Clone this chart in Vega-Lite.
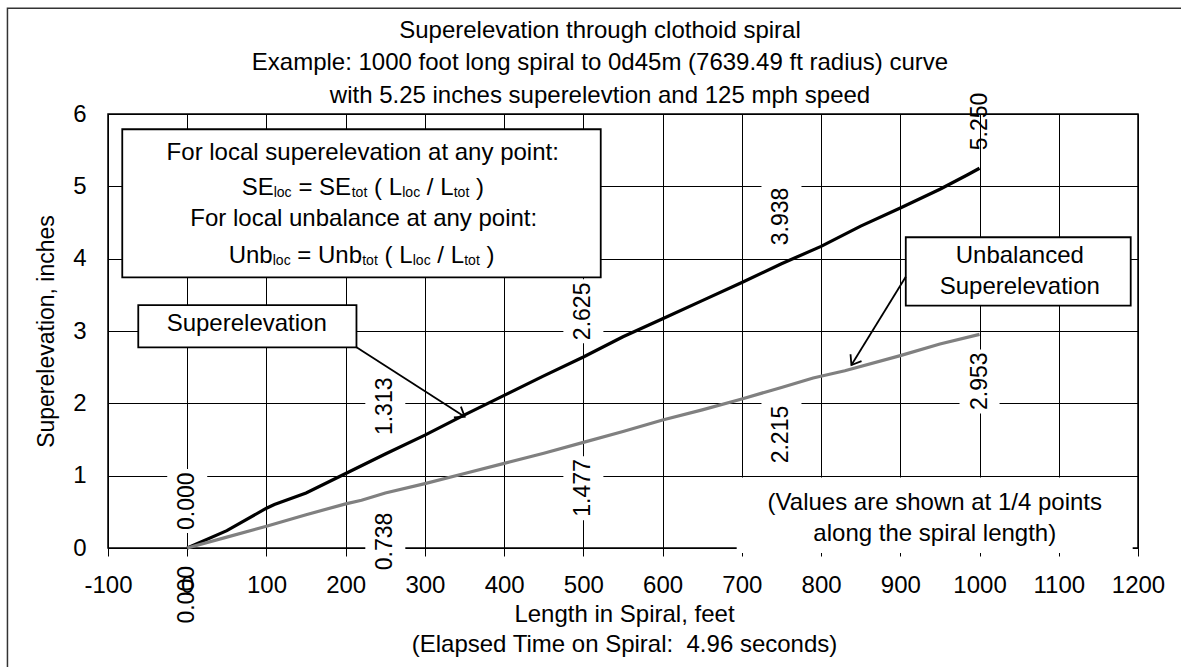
{
  "$schema": "https://vega.github.io/schema/vega-lite/v6.json",
  "width": 1030,
  "height": 434,
  "autosize": {"type": "none"},
  "padding": {"left": 108, "top": 114, "right": 43, "bottom": 119},
  "background": "white",
  "config": {
    "font": "Liberation Sans",
    "view": {"stroke": "#000", "strokeWidth": 1.5},
    "text": {"color": "#000", "font": "Liberation Sans"}
  },
  "title": {
    "text": [
      "Superelevation through clothoid spiral",
      "Example: 1000 foot long spiral to 0d45m (7639.49 ft radius) curve",
      "with 5.25 inches superelevtion and 125 mph speed"
    ],
    "fontSize": 24,
    "fontWeight": "normal",
    "color": "#000",
    "font": "Liberation Sans",
    "lineHeight": 32.5,
    "anchor": "middle",
    "frame": "group",
    "dx": -23,
    "dy": 100,
    "offset": 0
  },
  "datasets": {
    "spiral": [
      {"L": 0, "SE": 0, "series": "Superelevation"},
      {"L": 50, "SE": 0.24, "series": "Superelevation"},
      {"L": 100, "SE": 0.55, "series": "Superelevation"},
      {"L": 110, "SE": 0.6, "series": "Superelevation"},
      {"L": 150, "SE": 0.76, "series": "Superelevation"},
      {"L": 200, "SE": 1.03, "series": "Superelevation"},
      {"L": 250, "SE": 1.3, "series": "Superelevation"},
      {"L": 300, "SE": 1.56, "series": "Superelevation"},
      {"L": 350, "SE": 1.84, "series": "Superelevation"},
      {"L": 400, "SE": 2.11, "series": "Superelevation"},
      {"L": 450, "SE": 2.38, "series": "Superelevation"},
      {"L": 500, "SE": 2.64, "series": "Superelevation"},
      {"L": 550, "SE": 2.92, "series": "Superelevation"},
      {"L": 600, "SE": 3.17, "series": "Superelevation"},
      {"L": 650, "SE": 3.42, "series": "Superelevation"},
      {"L": 700, "SE": 3.67, "series": "Superelevation"},
      {"L": 750, "SE": 3.93, "series": "Superelevation"},
      {"L": 800, "SE": 4.17, "series": "Superelevation"},
      {"L": 850, "SE": 4.45, "series": "Superelevation"},
      {"L": 900, "SE": 4.7, "series": "Superelevation"},
      {"L": 950, "SE": 4.96, "series": "Superelevation"},
      {"L": 985, "SE": 5.16, "series": "Superelevation"},
      {"L": 1000, "SE": 5.25, "series": "Superelevation"},
      {"L": 0, "SE": 0, "series": "Unbalanced Superelevation"},
      {"L": 50, "SE": 0.15, "series": "Unbalanced Superelevation"},
      {"L": 100, "SE": 0.3, "series": "Unbalanced Superelevation"},
      {"L": 150, "SE": 0.46, "series": "Unbalanced Superelevation"},
      {"L": 200, "SE": 0.61, "series": "Unbalanced Superelevation"},
      {"L": 220, "SE": 0.66, "series": "Unbalanced Superelevation"},
      {"L": 250, "SE": 0.76, "series": "Unbalanced Superelevation"},
      {"L": 300, "SE": 0.89, "series": "Unbalanced Superelevation"},
      {"L": 350, "SE": 1.03, "series": "Unbalanced Superelevation"},
      {"L": 400, "SE": 1.17, "series": "Unbalanced Superelevation"},
      {"L": 450, "SE": 1.31, "series": "Unbalanced Superelevation"},
      {"L": 500, "SE": 1.46, "series": "Unbalanced Superelevation"},
      {"L": 550, "SE": 1.61, "series": "Unbalanced Superelevation"},
      {"L": 600, "SE": 1.77, "series": "Unbalanced Superelevation"},
      {"L": 650, "SE": 1.91, "series": "Unbalanced Superelevation"},
      {"L": 700, "SE": 2.06, "series": "Unbalanced Superelevation"},
      {"L": 750, "SE": 2.22, "series": "Unbalanced Superelevation"},
      {"L": 790, "SE": 2.35, "series": "Unbalanced Superelevation"},
      {"L": 830, "SE": 2.45, "series": "Unbalanced Superelevation"},
      {"L": 900, "SE": 2.66, "series": "Unbalanced Superelevation"},
      {"L": 950, "SE": 2.82, "series": "Unbalanced Superelevation"},
      {"L": 1000, "SE": 2.953, "series": "Unbalanced Superelevation"}
    ],
    "quarters": [
      {"L": 0, "value": 0, "series": "Superelevation"},
      {"L": 250, "value": 1.3125, "series": "Superelevation"},
      {"L": 500, "value": 2.625, "series": "Superelevation"},
      {"L": 750, "value": 3.9375, "series": "Superelevation"},
      {"L": 1000, "value": 5.25, "series": "Superelevation"},
      {"L": 0, "value": 0, "series": "Unbalanced Superelevation"},
      {"L": 250, "value": 0.738, "series": "Unbalanced Superelevation"},
      {"L": 500, "value": 1.477, "series": "Unbalanced Superelevation"},
      {"L": 750, "value": 2.215, "series": "Unbalanced Superelevation"},
      {"L": 1000, "value": 2.953, "series": "Unbalanced Superelevation"}
    ],
    "boxes": [
      {"box": "formula", "x": -82.0, "x2": 521.9, "y": 5.789, "y2": 3.742},
      {"box": "se", "x": -61.8, "x2": 213.6, "y": 3.359, "y2": 2.775},
      {"box": "unb", "x": 906.9, "x2": 1190.8, "y": 4.296, "y2": 3.35}
    ],
    "note": [
      {"x": 693.5, "x2": 1193.3, "y": 0.975, "y2": -0.07}
    ],
    "arrows": [
      {"id": "se", "x": 213.6, "y": 2.775, "x2": 350.2, "y2": 1.815},
      {"id": "unb", "x": 906.9, "y": 3.75, "x2": 838.3, "y2": 2.53}
    ],
    "labels": [
      {"x": 221.5, "y": 5.368, "text": "For local superelevation at any point:"},
      {"x": 222.8, "y": 4.456, "text": "For local unbalance at any point:"},
      {"x": 75.1, "y": 3.0, "text": "Superelevation"},
      {"x": 1050.8, "y": 3.947, "text": "Unbalanced"},
      {"x": 1050.8, "y": 3.512, "text": "Superelevation"},
      {"x": 943.5, "y": 0.532, "text": "(Values are shown at 1/4 points"},
      {"x": 943.5, "y": 0.09, "text": "along the spiral length)"}
    ],
    "formulaMain": [
      {"x": 68.66, "y": 4.884, "text": "SE"},
      {"x": 140.35, "y": 4.884, "text": "= SE"},
      {"x": 235.77, "y": 4.884, "text": "( L"},
      {"x": 302.41, "y": 4.884, "text": "/ L"},
      {"x": 364.5, "y": 4.884, "text": ")"},
      {"x": 52.25, "y": 3.94, "text": "Unb"},
      {"x": 138.96, "y": 3.94, "text": "= Unb"},
      {"x": 249.02, "y": 3.94, "text": "( L"},
      {"x": 315.66, "y": 3.94, "text": "/ L"},
      {"x": 377.76, "y": 3.94, "text": ")"}
    ],
    "formulaSub": [
      {"x": 109.17, "y": 4.857, "text": "loc"},
      {"x": 207.62, "y": 4.857, "text": "tot"},
      {"x": 271.36, "y": 4.857, "text": "loc"},
      {"x": 336.36, "y": 4.857, "text": "tot"},
      {"x": 107.91, "y": 3.912, "text": "loc"},
      {"x": 220.87, "y": 3.912, "text": "tot"},
      {"x": 284.61, "y": 3.912, "text": "loc"},
      {"x": 349.61, "y": 3.912, "text": "tot"}
    ]
  },
  "layer": [
    {
      "data": {"values": [{}]},
      "mark": {"type": "rect", "fillOpacity": 0, "stroke": "#333", "strokeWidth": 1.5, "clip": false},
      "encoding": {
        "x": {"datum": -226.9},
        "x2": {"datum": 1300},
        "y": {"datum": 7.461},
        "y2": {"datum": -2.2}
      }
    },
    {
      "data": {"name": "note"},
      "mark": {"type": "rect", "color": "#fff", "fillOpacity": 1},
      "encoding": {
        "x": {"field": "x", "type": "quantitative"},
        "x2": {"field": "x2"},
        "y": {"field": "y", "type": "quantitative"},
        "y2": {"field": "y2"}
      }
    },
    {
      "data": {"name": "quarters"},
      "transform": [
        {"filter": "datum.series == 'Superelevation' && datum.L < 1000"}
      ],
      "mark": {"type": "rect", "color": "#fff", "width": 40, "height": 64, "yOffset": -47},
      "encoding": {
        "x": {"field": "L", "type": "quantitative"},
        "y": {"field": "value", "type": "quantitative"}
      }
    },
    {
      "data": {"name": "quarters"},
      "transform": [
        {"filter": "datum.series != 'Superelevation' && datum.L > 0"}
      ],
      "mark": {"type": "rect", "color": "#fff", "width": 40, "height": 64, "yOffset": 47},
      "encoding": {
        "x": {"field": "L", "type": "quantitative"},
        "y": {"field": "value", "type": "quantitative"}
      }
    },
    {
      "data": {"name": "spiral"},
      "mark": {"type": "line", "strokeWidth": 3.2},
      "encoding": {
        "x": {
          "field": "L",
          "type": "quantitative",
          "scale": {"domain": [-100, 1200], "nice": false, "zero": false},
          "axis": {
            "values": [-100, 0, 100, 200, 300, 400, 500, 600, 700, 800, 900, 1000, 1100, 1200],
            "labelExpr": "'' + datum.value",
            "grid": true,
            "gridColor": "#000",
            "gridWidth": 1,
            "gridOpacity": 1,
            "domain": false,
            "ticks": true,
            "tickColor": "#000",
            "tickSize": 8,
            "tickWidth": 1,
            "labelFontSize": 24,
            "labelColor": "#000",
            "labelFont": "Liberation Sans",
            "labelBaseline": "alphabetic",
            "labelPadding": 36.7,
            "labelFlush": false,
            "labelOverlap": false,
            "title": ["Length in Spiral, feet", "(Elapsed Time on Spiral: \u00a04.96 seconds)"],
            "titleFontSize": 24,
            "titleFontWeight": "normal",
            "titleColor": "#000",
            "titleFont": "Liberation Sans",
            "titleX": 516,
            "titleY": 73.7,
            "titleBaseline": "alphabetic",
            "titleAlign": "center",
            "titleLineHeight": 30
          }
        },
        "y": {
          "field": "SE",
          "type": "quantitative",
          "scale": {"domain": [0, 6], "nice": false},
          "axis": {
            "values": [0, 1, 2, 3, 4, 5, 6],
            "labelExpr": "'' + datum.value",
            "grid": true,
            "gridColor": "#000",
            "gridWidth": 1,
            "gridOpacity": 1,
            "domain": false,
            "ticks": false,
            "tickSize": 0,
            "labelFontSize": 24,
            "labelColor": "#000",
            "labelFont": "Liberation Sans",
            "labelPadding": 22,
            "labelBaseline": "middle",
            "title": "Superelevation, inches",
            "titleFontSize": 23,
            "titleFontWeight": "normal",
            "titleColor": "#000",
            "titleFont": "Liberation Sans",
            "titleX": -55,
            "titleY": 217,
            "titleAngle": 270,
            "titleBaseline": "alphabetic",
            "titleAlign": "center"
          }
        },
        "color": {
          "field": "series",
          "type": "nominal",
          "scale": {"domain": ["Superelevation", "Unbalanced Superelevation"], "range": ["#000000", "#808080"]},
          "legend": null
        }
      }
    },
    {
      "data": {"name": "boxes"},
      "mark": {"type": "rect", "fill": "#fff", "fillOpacity": 1, "stroke": "#000", "strokeWidth": 1.8},
      "encoding": {
        "x": {"field": "x", "type": "quantitative"},
        "x2": {"field": "x2"},
        "y": {"field": "y", "type": "quantitative"},
        "y2": {"field": "y2"}
      }
    },
    {
      "data": {"name": "arrows"},
      "mark": {"type": "rule", "color": "#000", "strokeWidth": 1.8},
      "encoding": {
        "x": {"field": "x", "type": "quantitative"},
        "x2": {"field": "x2"},
        "y": {"field": "y", "type": "quantitative"},
        "y2": {"field": "y2"}
      }
    },
    {
      "data": {"name": "arrows"},
      "transform": [{"filter": "datum.id == 'se'"}],
      "mark": {"type": "point", "shape": "M-1,-0.75L0,0L-1,0.75", "filled": false, "stroke": "#000", "strokeWidth": 1.8, "size": 300, "angle": 32.6, "opacity": 1},
      "encoding": {
        "x": {"field": "x2", "type": "quantitative"},
        "y": {"field": "y2", "type": "quantitative"}
      }
    },
    {
      "data": {"name": "arrows"},
      "transform": [{"filter": "datum.id == 'unb'"}],
      "mark": {"type": "point", "shape": "M-1,-0.75L0,0L-1,0.75", "filled": false, "stroke": "#000", "strokeWidth": 1.8, "size": 300, "angle": 122.1, "opacity": 1},
      "encoding": {
        "x": {"field": "x2", "type": "quantitative"},
        "y": {"field": "y2", "type": "quantitative"}
      }
    },
    {
      "data": {"name": "quarters"},
      "transform": [{"filter": "datum.series == 'Superelevation'"}],
      "mark": {"type": "text", "angle": 270, "align": "left", "baseline": "middle", "dx": 18, "fontSize": 23, "color": "#000"},
      "encoding": {
        "x": {"field": "L", "type": "quantitative"},
        "y": {"field": "value", "type": "quantitative"},
        "text": {"field": "value", "type": "quantitative", "format": ".3f"}
      }
    },
    {
      "data": {"name": "quarters"},
      "transform": [{"filter": "datum.series != 'Superelevation'"}],
      "mark": {"type": "text", "angle": 270, "align": "right", "baseline": "middle", "dx": -18, "fontSize": 23, "color": "#000"},
      "encoding": {
        "x": {"field": "L", "type": "quantitative"},
        "y": {"field": "value", "type": "quantitative"},
        "text": {"field": "value", "type": "quantitative", "format": ".3f"}
      }
    },
    {
      "data": {"name": "labels"},
      "mark": {"type": "text", "align": "center", "baseline": "alphabetic", "fontSize": 24, "color": "#000"},
      "encoding": {
        "x": {"field": "x", "type": "quantitative"},
        "y": {"field": "y", "type": "quantitative"},
        "text": {"field": "text"}
      }
    },
    {
      "data": {"name": "formulaMain"},
      "mark": {"type": "text", "align": "left", "baseline": "alphabetic", "fontSize": 24, "color": "#000"},
      "encoding": {
        "x": {"field": "x", "type": "quantitative"},
        "y": {"field": "y", "type": "quantitative"},
        "text": {"field": "text"}
      }
    },
    {
      "data": {"name": "formulaSub"},
      "mark": {"type": "text", "align": "left", "baseline": "alphabetic", "fontSize": 14, "color": "#000"},
      "encoding": {
        "x": {"field": "x", "type": "quantitative"},
        "y": {"field": "y", "type": "quantitative"},
        "text": {"field": "text"}
      }
    }
  ]
}
